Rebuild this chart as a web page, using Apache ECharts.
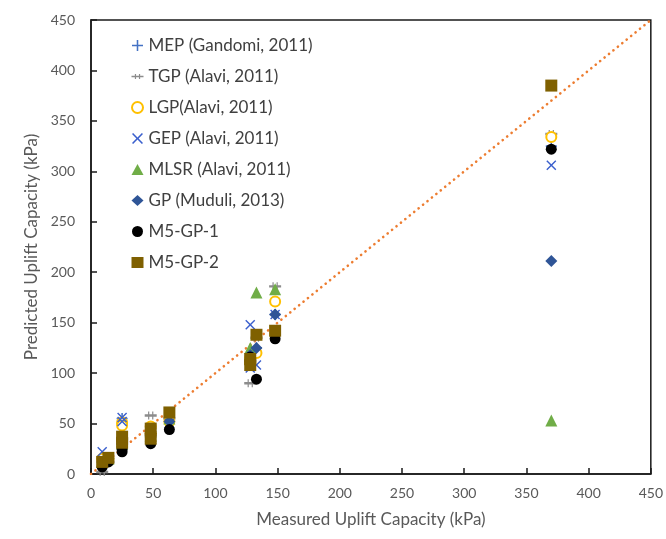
<!DOCTYPE html>
<html lang="en">
<head>
    <meta charset="UTF-8">
    <title>Uplift capacity</title>
    <script src="https://cdn.jsdelivr.net/npm/echarts@6/dist/echarts.min.js"></script>
    <style>
        body{ margin:0; }
        #chart{ width:666px; height:539px; }
    </style>
</head>
<body>
<div id="chart"></div>
<script>
    // measured uplift capacity (kPa), x of every test case
    var measured = [9, 14, 25, 25, 48, 48, 63, 128, 128, 133, 148, 370];
    // predicted values per model
    var mep   = [15, 15, 55, 50, 45, 40, 52, 110, 108, 125, 158, 325];
    var tgp   = [2, 12, 35, 30, 58, 38, 55, 90, 112, 135, 186, 337];
    var lgp   = [15, 15, 51, 48, 47, 40, 52, 115, 110, 120, 171, 334];
    var gep   = [22, 15, 56, 52, 40, 44, 50, 148, 105, 108, 158, 306];
    var mlsr  = [12, 15, 30, 33, 38, 42, 55, 125, 120, 180, 183, 53];
    var gp    = [12, 15, 30, 33, 38, 42, 52, 118, 112, 125, 158, 211];
    var m5gp1 = [7, 12, 22, 25, 30, 33, 44, 116, 112, 94, 134, 322];
    var m5gp2 = [12, 16, 31, 37, 35, 45, 61, 108, 114, 138, 142, 385];
    // 1:1 line
    var lineX = [0, 450];
    var lineY = [0, 450];

    var plusPath = 'path://M4.3,0H5.7V4.3H10V5.7H5.7V10H4.3V5.7H0V4.3H4.3Z';
    var crossPath = 'path://M0,1L1,0L5,4L9,0L10,1L6,5L10,9L9,10L5,6L1,10L0,9L4,5Z';
    var tgpPath = 'path://M0,4.4H10V5.6H0Z M2.8,3H3.8V7H2.8Z M6.2,3H7.2V7H6.2Z';

    function pairs(ys){
        var out = [];
        for (var i = 0; i < measured.length; i++) {
            out.push([measured[i], ys[i]]);
        }
        return out;
    }

    var chart = echarts.init(document.getElementById('chart'));
    var txt = '#595959';

    var option = {
        backgroundColor: '#fff',
        animation: false,
        textStyle: { fontFamily: 'Lato' },
        grid: {
            left: 91, right: 15, top: 20, bottom: 65,
            show: true, borderColor: '#1a1a1a', borderWidth: 1.5
        },
        legend: {
            orient: 'vertical',
            left: 126, top: 32,
            itemGap: 14,
            itemWidth: 12, itemHeight: 11,
            textStyle: { color: '#404040', fontSize: 17, fontFamily: 'Lato' },
            data: ['MEP (Gandomi, 2011)', 'TGP (Alavi, 2011)', 'LGP(Alavi, 2011)', 'GEP (Alavi, 2011)',
                'MLSR (Alavi, 2011)', 'GP (Muduli, 2013)', 'M5-GP-1', 'M5-GP-2']
        },
        xAxis: {
            type: 'value', min: 0, max: 450, interval: 50,
            name: 'Measured Uplift Capacity (kPa)',
            nameLocation: 'middle', nameGap: 37,
            nameTextStyle: { color: txt, fontSize: 17 },
            axisLine: { lineStyle: { color: '#1a1a1a', width: 1.5 } },
            axisTick: { inside: true, length: 6, lineStyle: { color: '#1a1a1a', width: 1.5 } },
            axisLabel: { color: txt, fontSize: 14, margin: 12 },
            splitLine: { show: false }
        },
        yAxis: {
            type: 'value', min: 0, max: 450, interval: 50,
            name: 'Predicted Uplift Capacity (kPa)',
            nameLocation: 'middle', nameGap: 50,
            nameTextStyle: { color: txt, fontSize: 17 },
            axisLine: { lineStyle: { color: '#1a1a1a', width: 1.5 } },
            axisTick: { inside: true, length: 6, lineStyle: { color: '#1a1a1a', width: 1.5 } },
            axisLabel: { color: txt, fontSize: 14, margin: 16 },
            splitLine: { show: false }
        },
        series: [
            {
                name: 'line', type: 'line', silent: true, symbol: 'none',
                data: [[lineX[0], lineY[0]], [lineX[1], lineY[1]]],
                lineStyle: { color: '#ED7D31', width: 2.6, type: [0.1, 5.6], cap: 'round' },
                z: 1
            },
            {
                name: 'MEP (Gandomi, 2011)', type: 'scatter', data: pairs(mep),
                symbol: plusPath, symbolSize: 11, itemStyle: { color: '#4472C4', opacity: 1 }
            },
            {
                name: 'TGP (Alavi, 2011)', type: 'scatter', data: pairs(tgp),
                symbol: tgpPath, symbolSize: [12, 8], itemStyle: { color: '#8c8c8c', opacity: 1 }
            },
            {
                name: 'LGP(Alavi, 2011)', type: 'scatter', data: pairs(lgp),
                symbol: 'circle', symbolSize: 10,
                itemStyle: { color: '#fff', borderColor: '#FFC000', borderWidth: 2, opacity: 1 }
            },
            {
                name: 'GEP (Alavi, 2011)', type: 'scatter', data: pairs(gep),
                symbol: crossPath, symbolSize: 10, itemStyle: { color: '#3A5FCD', opacity: 1 }
            },
            {
                name: 'MLSR (Alavi, 2011)', type: 'scatter', data: pairs(mlsr),
                symbol: 'triangle', symbolSize: 12, itemStyle: { color: '#70AD47', opacity: 1 }
            },
            {
                name: 'GP (Muduli, 2013)', type: 'scatter', data: pairs(gp),
                symbol: 'diamond', symbolSize: 12, itemStyle: { color: '#2F5597', opacity: 1 }
            },
            {
                name: 'M5-GP-1', type: 'scatter', data: pairs(m5gp1),
                symbol: 'circle', symbolSize: 11, itemStyle: { color: '#000', opacity: 1 }
            },
            {
                name: 'M5-GP-2', type: 'scatter', data: pairs(m5gp2),
                symbol: 'rect', symbolSize: 12, itemStyle: { color: '#7F6000', opacity: 1 }
            }
        ]
    };

    chart.setOption(option);
</script>
</body>
</html>
